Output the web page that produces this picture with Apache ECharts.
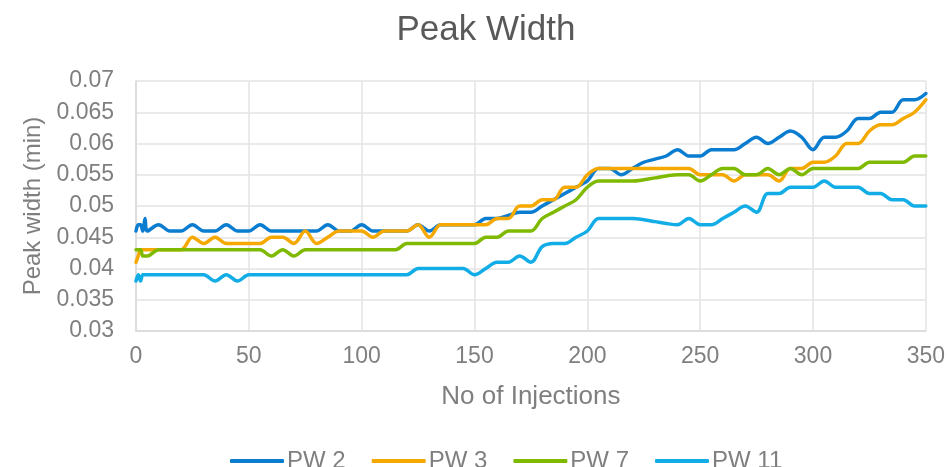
<!DOCTYPE html>
<html>
<head>
<meta charset="utf-8">
<title>Peak Width</title>
<script src="https://cdn.jsdelivr.net/npm/echarts@6/dist/echarts.min.js"></script>
<style>
  html, body { margin: 0; padding: 0; background: #ffffff; }
  #chart { width: 948px; height: 467px; }
</style>
</head>
<body>
<div id="chart"></div>
<script>
// Injection numbers at which the peak width was measured
const injections = [0, 1, 2, 3, 4, 5,
  10, 15, 20, 25, 30, 35, 40, 45, 50, 55, 60, 65, 70, 75, 80, 85, 90, 95, 100,
  105, 110, 115, 120, 125, 130, 135, 140, 145, 150, 155, 160, 165, 170, 175, 180,
  185, 190, 195, 200, 205, 210, 215, 220, 225, 230, 235, 240, 245, 250, 255, 260,
  265, 270, 275, 280, 285, 290, 295, 300, 305, 310, 315, 320, 325, 330, 335, 340,
  345, 350];

// Peak width (min) for each compound
const pw2 = [0.046, 0.047, 0.047, 0.046, 0.048, 0.046,
  0.047, 0.046, 0.046, 0.047, 0.046, 0.046, 0.047, 0.046, 0.046, 0.047, 0.046, 0.046, 0.046, 0.046, 0.046, 0.047, 0.046, 0.046, 0.047,
  0.046, 0.046, 0.046, 0.046, 0.047, 0.046, 0.047, 0.047, 0.047, 0.047, 0.048, 0.048, 0.0485, 0.049, 0.049, 0.050,
  0.051, 0.052, 0.053, 0.054, 0.056, 0.056, 0.055, 0.056, 0.057, 0.0575, 0.058, 0.059, 0.058, 0.058, 0.059, 0.059,
  0.059, 0.060, 0.061, 0.060, 0.061, 0.062, 0.061, 0.059, 0.061, 0.061, 0.062, 0.064, 0.064, 0.065, 0.065, 0.067,
  0.067, 0.068];

const pw3 = [0.041, 0.042, 0.043, 0.043, 0.043, 0.043,
  0.043, 0.043, 0.043, 0.045, 0.044, 0.045, 0.044, 0.044, 0.044, 0.044, 0.045, 0.045, 0.044, 0.046, 0.044, 0.045, 0.046, 0.046, 0.046,
  0.045, 0.046, 0.046, 0.046, 0.047, 0.045, 0.047, 0.047, 0.047, 0.047, 0.047, 0.048, 0.048, 0.050, 0.050, 0.051,
  0.051, 0.053, 0.053, 0.055, 0.056, 0.056, 0.056, 0.056, 0.056, 0.056, 0.056, 0.056, 0.056, 0.055, 0.055, 0.055,
  0.054, 0.055, 0.055, 0.055, 0.054, 0.056, 0.056, 0.057, 0.057, 0.058, 0.060, 0.060, 0.062, 0.063, 0.063, 0.064,
  0.065, 0.067];

const pw7 = [0.043, 0.043, 0.043, 0.042, 0.042, 0.042,
  0.043, 0.043, 0.043, 0.043, 0.043, 0.043, 0.043, 0.043, 0.043, 0.043, 0.042, 0.043, 0.042, 0.043, 0.043, 0.043, 0.043, 0.043, 0.043,
  0.043, 0.043, 0.043, 0.044, 0.044, 0.044, 0.044, 0.044, 0.044, 0.044, 0.045, 0.045, 0.046, 0.046, 0.046, 0.048,
  0.049, 0.050, 0.051, 0.053, 0.054, 0.054, 0.054, 0.054, 0.0542, 0.0545, 0.0548, 0.055, 0.055, 0.054, 0.055, 0.056,
  0.056, 0.055, 0.055, 0.056, 0.055, 0.056, 0.055, 0.056, 0.056, 0.056, 0.056, 0.056, 0.057, 0.057, 0.057, 0.057,
  0.058, 0.058];

const pw11 = [0.038, 0.039, 0.038, 0.039, 0.039, 0.039,
  0.039, 0.039, 0.039, 0.039, 0.039, 0.038, 0.039, 0.038, 0.039, 0.039, 0.039, 0.039, 0.039, 0.039, 0.039, 0.039, 0.039, 0.039, 0.039,
  0.039, 0.039, 0.039, 0.039, 0.040, 0.040, 0.040, 0.040, 0.040, 0.039, 0.040, 0.041, 0.041, 0.042, 0.041, 0.0435,
  0.044, 0.044, 0.045, 0.046, 0.048, 0.048, 0.048, 0.048, 0.0478, 0.0475, 0.0472, 0.047, 0.048, 0.047, 0.047, 0.048,
  0.049, 0.050, 0.049, 0.052, 0.052, 0.053, 0.053, 0.053, 0.054, 0.053, 0.053, 0.053, 0.052, 0.052, 0.051, 0.051,
  0.050, 0.050];

const seriesNames = ['PW 2', 'PW 3', 'PW 7', 'PW 11'];
const seriesValues = [pw2, pw3, pw7, pw11];
const seriesColors = ['#0a7dd0', '#f5a800', '#7fba00', '#12ade6'];

const FONT = '"Liberation Sans", Arial, sans-serif';

const chart = echarts.init(document.getElementById('chart'), null, { renderer: 'canvas' });

chart.setOption({
  animation: false,
  backgroundColor: '#ffffff',
  title: {
    text: 'Peak Width',
    left: 481,
    textAlign: 'center',
    top: 8,
    textStyle: { fontFamily: FONT, fontSize: 35, fontWeight: 'normal', color: '#595959' }
  },
  legend: {
    data: seriesNames,
    left: 225,
    top: 444,
    icon: 'roundRect',
    itemWidth: 54,
    itemHeight: 4,
    itemGap: 26,
    textStyle: { fontFamily: FONT, fontSize: 24, color: '#7f7f7f', padding: [0, 0, 0, -2] }
  },
  grid: { left: 136, right: 19, top: 81, bottom: 136, containLabel: false },
  xAxis: {
    type: 'value',
    min: 0,
    max: 350,
    interval: 50,
    name: 'No of Injections',
    nameLocation: 'middle',
    nameGap: 53,
    nameTextStyle: { fontFamily: FONT, fontSize: 26, color: '#7f7f7f' },
    axisLine: { show: true, lineStyle: { color: '#d9d9d9', width: 1.5 } },
    axisTick: { show: false },
    axisLabel: { margin: 14, fontFamily: FONT, fontSize: 23, color: '#7f7f7f' },
    splitLine: { show: true, lineStyle: { color: '#e3e3e3', width: 1.5 } }
  },
  yAxis: {
    type: 'value',
    min: 0.03,
    max: 0.07,
    interval: 0.005,
    name: 'Peak width (min)',
    nameLocation: 'middle',
    nameGap: 89,
    nameTextStyle: { fontFamily: FONT, fontSize: 24, color: '#7f7f7f' },
    axisLine: { show: true, lineStyle: { color: '#d9d9d9', width: 1.5 } },
    axisTick: { show: false },
    axisLabel: {
      margin: 22,
      fontFamily: FONT,
      fontSize: 23,
      color: '#7f7f7f',
      formatter: v => String(+v.toFixed(3))
    },
    splitLine: { show: true, lineStyle: { color: '#e3e3e3', width: 1.5 } }
  },
  series: seriesNames.map((name, i) => ({
    name: name,
    type: 'line',
    smooth: 0.35,
    symbol: 'none',
    color: seriesColors[i],
    lineStyle: { width: 3.5, color: seriesColors[i], cap: 'round', join: 'round' },
    data: injections.map((x, k) => [x, seriesValues[i][k]])
  }))
});
</script>
</body>
</html>
